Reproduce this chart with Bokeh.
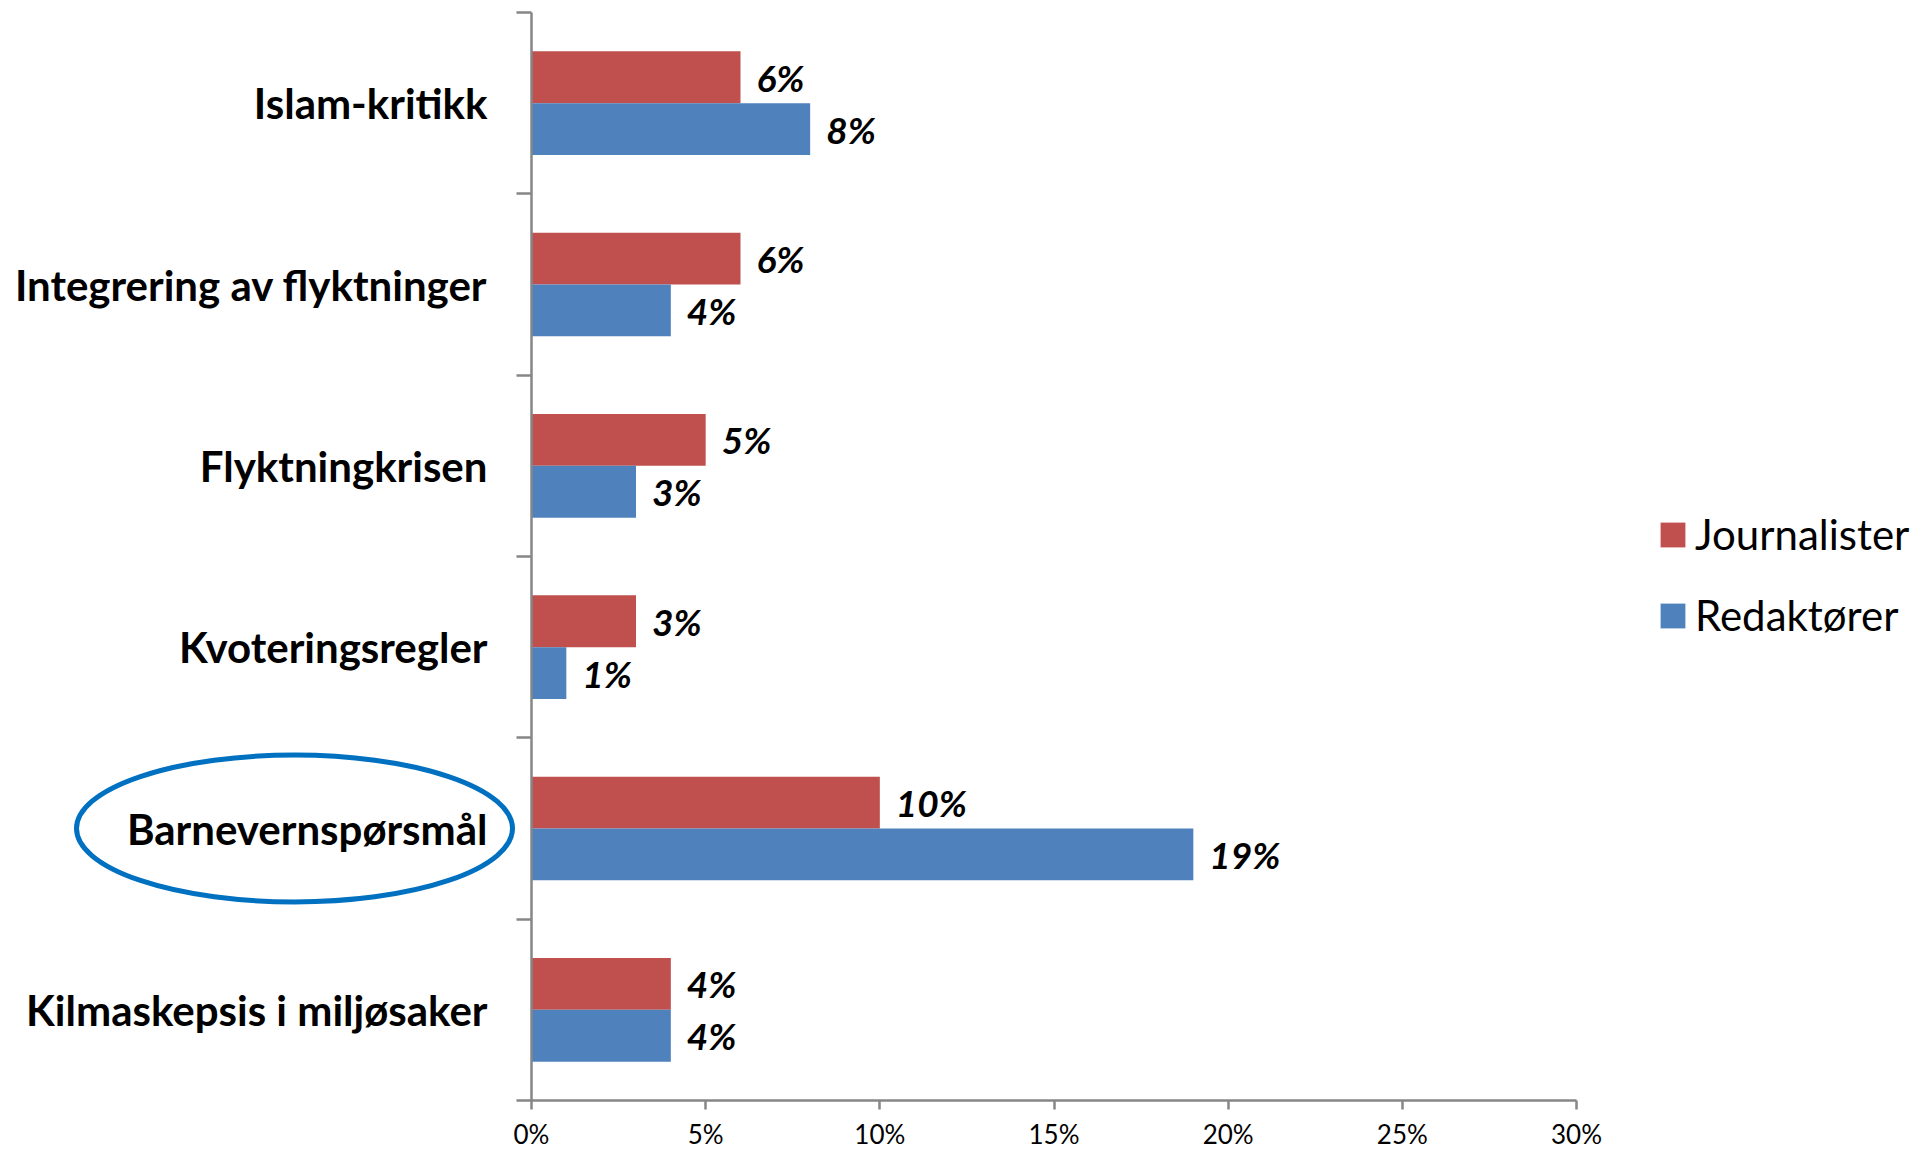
from bokeh.plotting import figure
from bokeh.models import (Range1d, LinearAxis, FixedTicker, NumeralTickFormatter,
                          ColumnDataSource, Legend, LegendItem)
from bokeh.core.properties import value
from bokeh.embed import file_html
from bokeh.resources import INLINE

# ---- data (bottom to top) ----
categories = ["Kilmaskepsis i miljøsaker", "Barnevernspørsmål", "Kvoteringsregler",
              "Flyktningkrisen", "Integrering av flyktninger", "Islam-kritikk"]
journalister = [4, 10, 3, 5, 6, 6]
redaktorer = [4, 19, 1, 3, 4, 8]
series_names = ["Journalister", "Redaktører"]
x_ticks = [0, 0.05, 0.10, 0.15, 0.20, 0.25, 0.30]
highlight = "Barnevernspørsmål"

RED = "#C0504D"
BLUE = "#4F81BD"
AXIS = "#868686"
FONT = "Lato"

W, H = 1932, 1151
# layout constants (pixels within the figure)
ax_left_px, ax_right_px = 531, 1576
ax_top_px, ax_bottom_px = 12, 1100
xmax = 0.30
ncat = len(categories)
ppx = (ax_right_px - ax_left_px) / xmax
ppy = (ax_bottom_px - ax_top_px) / ncat

x_start = -ax_left_px / ppx
x_end = x_start + W / ppx
y_start = -0.5 - (H - ax_bottom_px) / ppy
y_end = ncat - 0.5 + ax_top_px / ppy

p = figure(width=W, height=H, x_range=Range1d(x_start, x_end), y_range=Range1d(y_start, y_end),
           output_backend="svg", toolbar_location=None, min_border=0,
           x_axis_type=None, y_axis_type=None)
p.outline_line_color = None
p.background_fill_color = "white"
p.border_fill_color = "white"

bar_h = 1 / 3.5
idx = list(range(ncat))
src_j = ColumnDataSource(dict(
    y=[i + bar_h / 2 for i in idx],
    v=[v / 100 for v in journalister],
    lbl=[f"{v}%" for v in journalister]))
src_r = ColumnDataSource(dict(
    y=[i - bar_h / 2 for i in idx],
    v=[v / 100 for v in redaktorer],
    lbl=[f"{v}%" for v in redaktorer]))

r_j = p.hbar(y="y", left=0, right="v", height=bar_h, source=src_j, fill_color=RED, line_color=None)
r_r = p.hbar(y="y", left=0, right="v", height=bar_h, source=src_r, fill_color=BLUE, line_color=None)

for src in (src_j, src_r):
    p.text(x="v", y="y", text="lbl", source=src, x_offset=16, text_baseline="middle",
           text_align="left", text_font=value(FONT), text_font_style="bold italic",
           text_font_size="37px", text_color="black")

# highlight ellipse around a category label
hi = categories.index(highlight)
p.ellipse(x=[-237 / ppx], y=[hi], width=436, height=147, width_units="screen",
          height_units="screen", fill_color=None, line_color="#0070C0", line_width=5)

# x axis
xaxis = LinearAxis(fixed_location=-0.5, bounds=(0, xmax), ticker=FixedTicker(ticks=x_ticks),
                   formatter=NumeralTickFormatter(format="0%"))
xaxis.axis_line_color = AXIS
xaxis.axis_line_width = 2.5
xaxis.major_tick_line_color = AXIS
xaxis.major_tick_line_width = 2.5
xaxis.major_tick_out = 9
xaxis.major_tick_in = 0
xaxis.minor_tick_line_color = None
xaxis.major_label_text_font = FONT
xaxis.major_label_text_font_size = "26px"
xaxis.major_label_text_color = "black"
xaxis.major_label_standoff = 8
p.add_layout(xaxis, "below")

# y axis (categories)
yaxis = LinearAxis(fixed_location=0, bounds=(-0.5, ncat - 0.5),
                   ticker=FixedTicker(ticks=idx, minor_ticks=[i - 0.5 for i in range(ncat + 1)]))
yaxis.major_label_overrides = {i: c for i, c in zip(idx, categories)}
yaxis.axis_line_color = AXIS
yaxis.axis_line_width = 2.5
yaxis.major_tick_line_color = None
yaxis.major_tick_out = 0
yaxis.major_tick_in = 0
yaxis.minor_tick_line_color = AXIS
yaxis.minor_tick_line_width = 2.5
yaxis.minor_tick_out = 15
yaxis.minor_tick_in = 0
yaxis.major_label_text_font = FONT
yaxis.major_label_text_font_style = "bold"
yaxis.major_label_text_font_size = "42px"
yaxis.major_label_text_color = "black"
yaxis.major_label_standoff = 29
p.add_layout(yaxis, "left")

legend = Legend(items=[LegendItem(label=series_names[0], renderers=[r_j]),
                       LegendItem(label=series_names[1], renderers=[r_r])],
                location=(1657, 511), orientation="vertical",
                glyph_width=31, glyph_height=31, label_standoff=7,
                label_text_font=FONT, label_text_font_size="42px", label_text_color="black",
                spacing=31, padding=0, margin=0, border_line_color=None,
                background_fill_alpha=0)
p.add_layout(legend)

open("out.html", "w").write(file_html(p, INLINE))
